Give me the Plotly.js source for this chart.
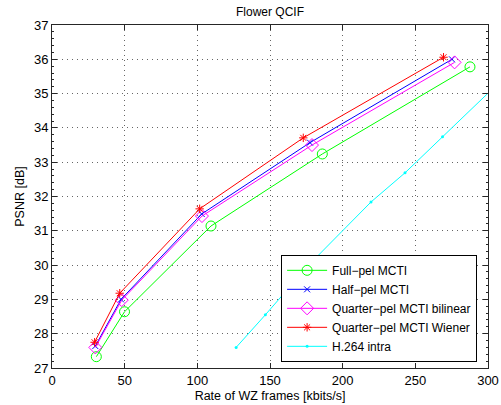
<!DOCTYPE html>
<html>
<head>
<meta charset="utf-8">
<script src="https://cdn.plot.ly/plotly-3.0.1.min.js"></script>
<style>html,body{margin:0;padding:0;background:#fff}#chart{width:501px;height:405px}</style>
</head>
<body>
<div id="chart"></div>
<script>
var fullX = [30.5, 49.9, 109.4, 186.0, 287.6];
var fullY = [27.33, 28.64, 31.14, 33.24, 35.78];
var halfX = [29.8, 47.5, 103.0, 177.5, 275.2];
var halfY = [27.64, 29.00, 31.49, 33.57, 36.00];
var bilX = [29.8, 48.0, 103.2, 178.9, 277.0];
var bilY = [27.60, 28.98, 31.43, 33.50, 35.91];
var wieX = [29.3, 46.6, 101.6, 172.9, 269.4];
var wieY = [27.75, 29.18, 31.64, 33.71, 36.06];
var h264X = [126.7, 146.8, 176.6, 219.5, 242.9, 268.7, 312.0];
var h264Y = [27.60, 28.55, 30.00, 31.84, 32.69, 33.74, 35.50];
var names = ["Full\u2212pel MCTI", "Half\u2212pel MCTI", "Quarter\u2212pel MCTI bilinear", "Quarter\u2212pel MCTI Wiener", "H.264 intra"];
var xTicks = [0, 50, 100, 150, 200, 250, 300];
var yTicks = [27, 28, 29, 30, 31, 32, 33, 34, 35, 36, 37];

var traces = [
  {x: fullX, y: fullY, name: names[0], mode: "lines+markers", line: {color: "#00ff00", width: 1}, marker: {symbol: "circle-open", size: 10, color: "#00ff00", line: {width: 1}}},
  {x: halfX, y: halfY, name: names[1], mode: "lines+markers", line: {color: "#0000ff", width: 1}, marker: {symbol: "x-thin-open", size: 6, color: "#0000ff", line: {width: 1, color: "#0000ff"}}},
  {x: bilX, y: bilY, name: names[2], mode: "lines+markers", line: {color: "#ff00ff", width: 1}, marker: {symbol: "diamond-open", size: 10, color: "#ff00ff", line: {width: 1}}},
  {x: wieX, y: wieY, name: names[3], mode: "lines+markers", line: {color: "#ff0000", width: 1}, marker: {symbol: "asterisk-open", size: 7, color: "#ff0000", line: {width: 1, color: "#ff0000"}}},
  {x: h264X, y: h264Y, name: names[4], mode: "lines+markers", line: {color: "#00ffff", width: 1}, marker: {symbol: "circle", size: 3, color: "#00ffff"}}
];

var axCommon = {
  showline: true, linecolor: "#262626", linewidth: 1, mirror: "ticks",
  ticks: "inside", ticklen: 5, tickcolor: "#262626",
  showgrid: true, gridcolor: "#666", griddash: "1px,4px", gridwidth: 1,
  zeroline: false, tickfont: {family: "Liberation Sans, Arial, sans-serif", size: 13, color: "#000"}
};

var layout = {
  width: 501, height: 405,
  margin: {l: 52, r: 13, t: 25, b: 37},
  paper_bgcolor: "#fff", plot_bgcolor: "#fff",
  font: {family: "Liberation Sans, Arial, sans-serif", color: "#000"},
  title: {text: "Flower QCIF", font: {size: 12, color: "#000"}, x: 0.539, xanchor: "center", y: 0.972, yanchor: "middle"},
  xaxis: Object.assign({}, axCommon, {range: [0, 300], tickvals: xTicks, ticktext: xTicks.map(String),
    title: {text: "Rate of WZ frames [kbits/s]", font: {size: 12.5}, standoff: 4}}),
  yaxis: Object.assign({}, axCommon, {range: [27, 37], tickvals: yTicks, ticktext: yTicks.map(String),
    minor: {ticks: "inside", ticklen: 2, dtick: 0.2, tickcolor: "#262626", showgrid: false},
    title: {text: "PSNR [dB]", font: {size: 12.5}, standoff: 6}}),
  legend: {x: 0.975, xanchor: "right", y: 0.018, yanchor: "bottom", bgcolor: "#fff", bordercolor: "#000", borderwidth: 1,
    font: {size: 12, color: "#000"}, tracegroupgap: 0, itemwidth: 40},
  showlegend: true
};

Plotly.newPlot("chart", traces, layout, {displayModeBar: false, staticPlot: true});
</script>
</body>
</html>
